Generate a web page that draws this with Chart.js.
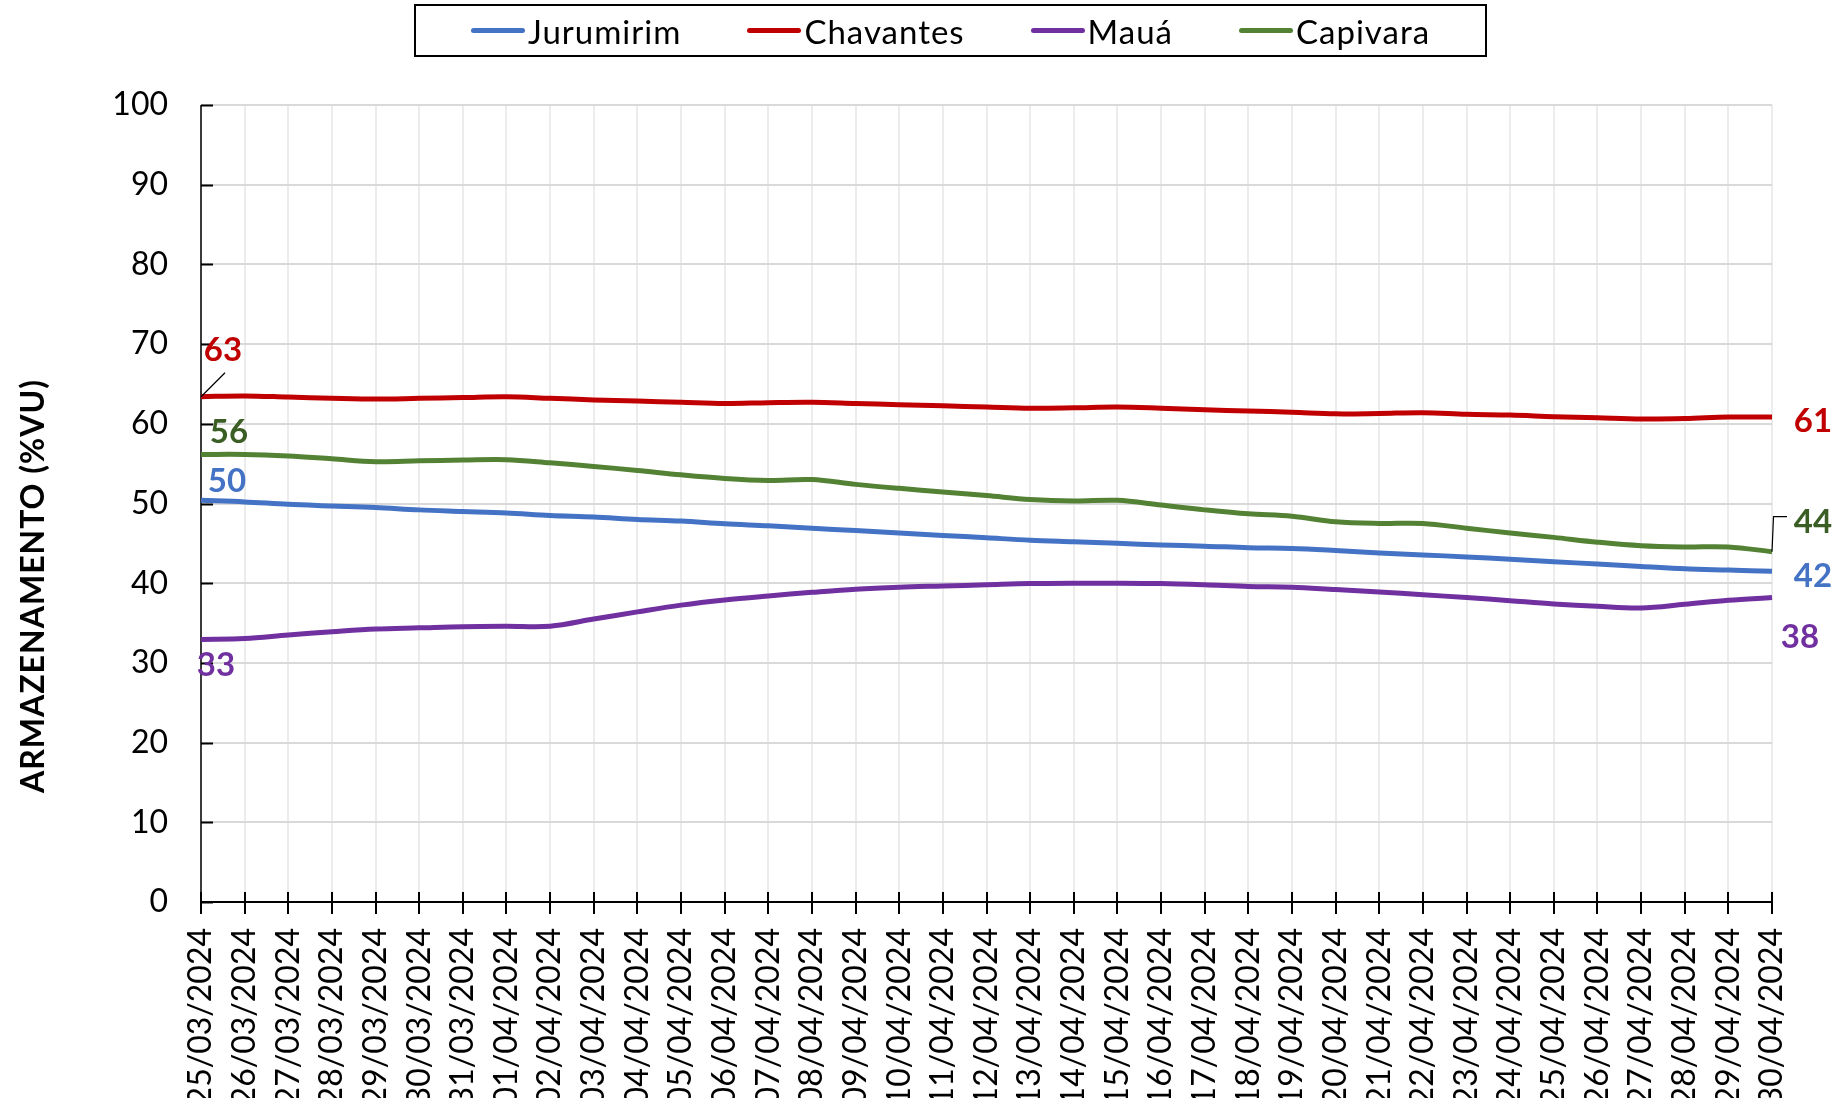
<!DOCTYPE html>
<html>
<head>
<meta charset="utf-8">
<title>Armazenamento</title>
<script src="https://cdn.jsdelivr.net/npm/chart.js@4.4.1/dist/chart.umd.min.js"></script>
<style>
  body { margin: 0; background: #fff; }
  #wrap { position: relative; width: 1839px; height: 1098px; }
  #legend {
    position: absolute; left: 414px; top: 4px; width: 1069px; height: 49px;
    border: 2px solid #000; display: flex; align-items: center; justify-content: center;
    font-family: Lato, sans-serif; font-size: 33px; letter-spacing: 1px; color: #000;
  }
  .item { display: flex; align-items: center; margin: 0 33px; }
  .swatch { width: 54px; height: 5px; border-radius: 3px; margin-right: 3px; }
</style>
</head>
<body>
<div id="wrap">
  <canvas id="chart" width="1839" height="1098"></canvas>
  <div id="legend"></div>
</div>
<script>
// Daily storage (% of useful volume) per reservoir
const dates = [
  "25/03/2024", "26/03/2024", "27/03/2024", "28/03/2024", "29/03/2024", "30/03/2024", "31/03/2024",
  "01/04/2024", "02/04/2024", "03/04/2024", "04/04/2024", "05/04/2024", "06/04/2024", "07/04/2024",
  "08/04/2024", "09/04/2024", "10/04/2024", "11/04/2024", "12/04/2024", "13/04/2024", "14/04/2024",
  "15/04/2024", "16/04/2024", "17/04/2024", "18/04/2024", "19/04/2024", "20/04/2024", "21/04/2024",
  "22/04/2024", "23/04/2024", "24/04/2024", "25/04/2024", "26/04/2024", "27/04/2024", "28/04/2024",
  "29/04/2024", "30/04/2024"
];

const jurumirim = [
  50.4, 50.2, 49.9, 49.7, 49.5, 49.2, 49.0, 48.8, 48.5, 48.3, 48.0, 47.8, 47.45, 47.2, 46.9,
  46.6, 46.3, 46.0, 45.7, 45.4, 45.2, 45.0, 44.8, 44.65, 44.45, 44.35, 44.1, 43.8, 43.55, 43.3,
  43.0, 42.7, 42.4, 42.1, 41.8, 41.65, 41.5
];
const chavantes = [
  63.4, 63.5, 63.35, 63.2, 63.1, 63.2, 63.3, 63.4, 63.2, 63.0, 62.85, 62.7, 62.55, 62.65, 62.7,
  62.55, 62.4, 62.25, 62.1, 61.95, 62.0, 62.1, 61.95, 61.75, 61.6, 61.45, 61.25, 61.3, 61.4, 61.2,
  61.1, 60.9, 60.75, 60.6, 60.65, 60.85, 60.85
];
const maua = [
  32.95, 33.05, 33.5, 33.9, 34.25, 34.4, 34.55, 34.6, 34.6, 35.5, 36.4, 37.25, 37.9, 38.4, 38.85,
  39.25, 39.5, 39.65, 39.8, 39.95, 40.0, 40.0, 39.95, 39.8, 39.6, 39.5, 39.2, 38.9, 38.55, 38.2,
  37.8, 37.4, 37.1, 36.9, 37.35, 37.85, 38.2
];
const capivara = [
  56.15, 56.15, 55.95, 55.6, 55.25, 55.35, 55.45, 55.5, 55.1, 54.65, 54.15, 53.6, 53.15, 52.9, 53.0,
  52.4, 51.9, 51.45, 51.0, 50.5, 50.3, 50.4, 49.8, 49.2, 48.7, 48.4, 47.7, 47.5, 47.5, 46.9,
  46.3, 45.75, 45.15, 44.7, 44.55, 44.55, 43.95
];

const seriesNames = ["Jurumirim", "Chavantes", "Mauá", "Capivara"];
const yMajorTicks = [0, 10, 20, 30, 40, 50, 60, 70, 80, 90, 100];

// Styling
const lineColors = ["#4472C4", "#C00000", "#7030A0", "#548235"];
const labelColors = ["#4472C4", "#C00000", "#7030A0", "#3B5E25"];
const FONT = "Lato";

// End-value label placement relative to the first / last point
const startOffsets = [{ dx: 26, dy: -20 }, { dx: 22, dy: -48 }, { dx: 15, dy: 25 }, { dx: 28, dy: -23 }];
const endOffsets = [{ dx: 41, dy: 4 }, { dx: 41, dy: 3 }, { dx: 28, dy: 39 }, { dx: 41, dy: -31 }];

// HTML legend
const legendEl = document.getElementById("legend");
seriesNames.forEach((name, i) => {
  const item = document.createElement("div");
  item.className = "item";
  item.innerHTML = `<span class="swatch" style="background:${lineColors[i]}"></span><span>${name}</span>`;
  legendEl.appendChild(item);
});

/**
 * Axis lines and tick marks (y ticks point into the plot, x ticks cross the axis)
 */
const axisDecor = {
  id: "axisDecor",
  beforeDatasetsDraw(chart) {
    const { ctx, chartArea: a, scales } = chart;
    ctx.save();
    ctx.strokeStyle = "#000";

    ctx.lineWidth = 1.5;
    ctx.beginPath();
    ctx.moveTo(a.left, a.top);
    ctx.lineTo(a.left, a.bottom);
    ctx.stroke();

    ctx.lineWidth = 2;
    ctx.beginPath();
    yMajorTicks.forEach((v) => {
      const py = Math.round(scales.y.getPixelForValue(v)) + 0.5;
      ctx.moveTo(a.left, py);
      ctx.lineTo(a.left + 12, py);
    });
    ctx.stroke();

    ctx.beginPath();
    ctx.moveTo(a.left, a.bottom);
    ctx.lineTo(a.right, a.bottom);
    dates.forEach((d, i) => {
      const px = Math.round(scales.x.getPixelForValue(i));
      ctx.moveTo(px, a.bottom - 10);
      ctx.lineTo(px, a.bottom + 12);
    });
    ctx.stroke();
    ctx.restore();
  },
};

/**
 * First / last value labels, leader lines and the rotated y-axis title
 */
const valueLabels = {
  id: "valueLabels",
  afterDatasetsDraw(chart) {
    const { ctx } = chart;
    ctx.save();
    ctx.font = `bold 33px ${FONT}`;
    ctx.textAlign = "center";
    ctx.textBaseline = "alphabetic";
    const capHalf = 33 * 0.358;

    chart.data.datasets.forEach((ds, i) => {
      const pts = chart.getDatasetMeta(i).data;
      const first = pts[0];
      const last = pts[pts.length - 1];
      ctx.fillStyle = labelColors[i];
      ctx.fillText(Math.round(ds.data[0]), first.x + startOffsets[i].dx, first.y + startOffsets[i].dy + capHalf);
      ctx.fillText(Math.round(ds.data[ds.data.length - 1]), last.x + endOffsets[i].dx, last.y + endOffsets[i].dy + capHalf);
    });

    // leader lines for the Chavantes start label and the Capivara end label
    ctx.strokeStyle = "#000";
    ctx.lineWidth = 1.2;
    const redStart = chart.getDatasetMeta(1).data[0];
    ctx.beginPath();
    ctx.moveTo(redStart.x, redStart.y);
    ctx.lineTo(redStart.x + 24, redStart.y - 24);
    ctx.stroke();
    const greenPts = chart.getDatasetMeta(3).data;
    const greenEnd = greenPts[greenPts.length - 1];
    ctx.beginPath();
    ctx.moveTo(greenEnd.x, greenEnd.y);
    ctx.lineTo(greenEnd.x + 1.5, greenEnd.y - 35);
    ctx.lineTo(greenEnd.x + 15, greenEnd.y - 35);
    ctx.stroke();

    // y-axis title
    ctx.translate(33, 586);
    ctx.rotate(-Math.PI / 2);
    ctx.fillStyle = "#000";
    ctx.font = `bold 32px ${FONT}`;
    ctx.letterSpacing = "1px";
    ctx.fillText("ARMAZENAMENTO (%VU)", 0, 32 * 0.358);
    ctx.restore();
  },
};

function buildChart() {
  const ctx = document.getElementById("chart").getContext("2d");
  const seriesData = [jurumirim, chavantes, maua, capivara];

  new Chart(ctx, {
    type: "line",
    data: {
      labels: dates,
      datasets: seriesNames.map((name, i) => ({
        label: name,
        data: seriesData[i],
        borderColor: lineColors[i],
        backgroundColor: lineColors[i],
        borderWidth: 5,
        tension: 0.35,
        pointRadius: 0,
        fill: false,
      })),
    },
    options: {
      responsive: false,
      animation: false,
      layout: { padding: { top: 105, right: 67, left: 0, bottom: 0 } },
      plugins: {
        legend: { display: false },
        tooltip: { enabled: false },
      },
      scales: {
        x: {
          grid: { color: "#ececec", lineWidth: 2, drawTicks: false },
          border: { display: false },
          ticks: {
            autoSkip: false,
            maxRotation: 90,
            minRotation: 90,
            padding: 26,
            color: "#000",
            font: { family: FONT, size: 32 },
          },
          afterFit: (scale) => {
            scale.height = 196;
          },
        },
        y: {
          min: 0,
          max: 100,
          grid: {
            lineWidth: 2,
            drawTicks: false,
            color: (c) => (c.tick && c.tick.value % 10 === 0 ? "#d9d9d9" : "#f0f0f0"),
          },
          border: { display: false },
          ticks: {
            stepSize: 5,
            padding: 33,
            color: "#000",
            font: { family: FONT, size: 32 },
            callback: (v) => (v % 10 === 0 ? v : ""),
          },
          afterFit: (scale) => {
            scale.width = 201;
          },
        },
      },
    },
    plugins: [axisDecor, valueLabels],
  });
}

document.fonts.load(`32px ${FONT}`).then(buildChart, buildChart);
</script>
</body>
</html>
